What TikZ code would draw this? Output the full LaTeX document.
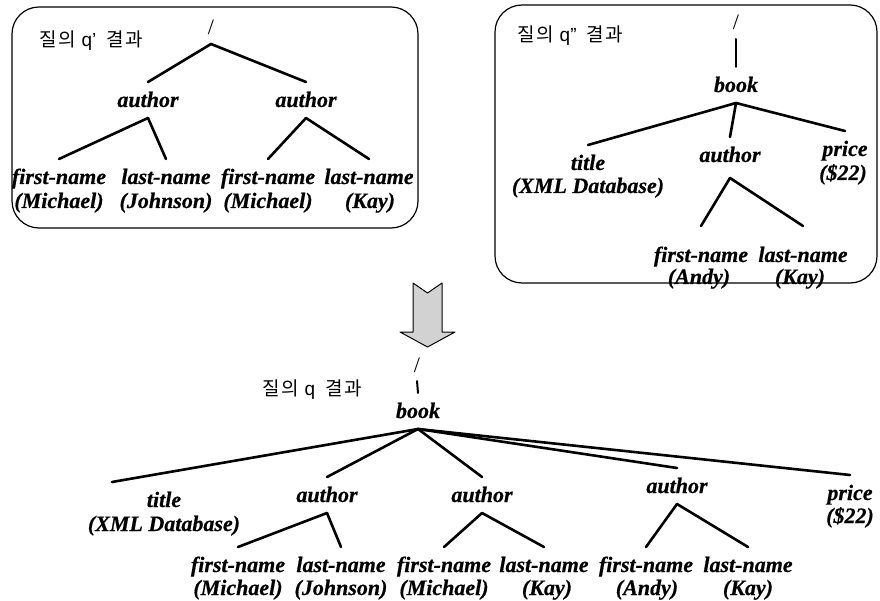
\documentclass[tikz,border=0pt]{standalone}
\usepackage{fontspec}
\setmainfont{Liberation Serif}[BoldItalicFeatures={FakeBold=0.5}]
\newfontfamily\krfont{Noto Sans CJK KR}[LetterSpace=8]
\newfontfamily\qfont{Liberation Sans}
\usetikzlibrary{arrows}
\begin{document}
\begin{tikzpicture}[line cap=round,line join=round,x=1pt,y=-1pt,
    tn/.style={font=\fontsize{22}{25}\selectfont\bfseries\itshape,inner sep=0pt,outer sep=11pt,text height=14pt,text depth=0pt,anchor=base},
    sl/.style={font=\fontsize{22}{24}\selectfont,inner sep=0pt,outer sep=9pt,text height=14pt,text depth=0pt,anchor=base},
    lbl/.style={font=\fontsize{19}{22}\selectfont,inner sep=0pt,anchor=base west},
    br/.style={line width=2.6pt},
    box/.style={line width=1.2pt,rounded corners=27pt}]
            \useasboundingbox (0.,0.) rectangle (880.,601.);
            \draw [box] (12.,7.) rectangle (418.,228.);
            \draw [box] (495.,5.) rectangle (877.,283.);
            \draw (39.,47.) node[lbl] (la) {{\krfont 질의}\hspace{6pt}{\qfont q’}\hspace{10pt}{\krfont 결과}};
            \draw (517.,42.) node[lbl] (lb) {{\krfont 질의}\hspace{6pt}{\qfont q”}\hspace{10pt}{\krfont 결과}};
            \draw (262.,395.) node[lbl] (lc) {{\krfont 질의}\hspace{6pt}{\qfont q}\hspace{10pt}{\krfont 결과}};
            \draw [line width=1.pt,fill=gray!35] (413.,283.)-- (427.5,293.)-- (442.,283.)-- (442.,332.)-- (455.,332.)-- (427.5,347.)-- (400.,332.)-- (413.,332.)-- cycle;
            \draw (211.,35.) node[sl] (ra) {/};
            \draw (148.,107.) node[tn] (aa1) {author};
            \draw (306.,107.) node[tn] (aa2) {author};
            \draw (59.,184.) node[tn] (fa1) {first-name};
            \draw (59.,208.) node[tn] (fa1v) {(Michael)};
            \draw (166.,184.) node[tn] (na1) {last-name};
            \draw (166.,208.) node[tn] (na1v) {(Johnson)};
            \draw (268.,184.) node[tn] (fa2) {first-name};
            \draw (268.,208.) node[tn] (fa2v) {(Michael)};
            \draw (369.,184.) node[tn] (na2) {last-name};
            \draw (370.,208.) node[tn] (na2v) {(Kay)};
            \draw [br] (ra.south)-- (aa1.north);
            \draw [br] (ra.south)-- (aa2.north);
            \draw [br] (aa1.south)-- (fa1.north);
            \draw [br] (aa1.south)-- (na1.north);
            \draw [br] (aa2.south)-- (fa2.north);
            \draw [br] (aa2.south)-- (na2.north);
            \draw (736.,30.) node[sl] (rb) {/};
            \draw (736.,92.) node[tn] (bkb) {book};
            \draw (588.,170.) node[tn] (tb) {title};
            \draw (588.,193.) node[tn] (tbv) {(XML Database)};
            \draw (730.,162.) node[tn] (ab) {author};
            \draw (845.,156.) node[tn] (pb) {price};
            \draw (843.,180.) node[tn] (pbv) {(\$22)};
            \draw (701.,262.) node[tn] (fb) {first-name};
            \draw (699.,284.) node[tn] (fbv) {(Andy)};
            \draw (803.,262.) node[tn] (nb) {last-name};
            \draw (800.,284.) node[tn] (nbv) {(Kay)};
            \draw [line width=2.pt] (rb.south)-- (bkb.north);
            \draw [br] (bkb.south)-- (tb.north);
            \draw [br] (bkb.south)-- (ab.north);
            \draw [br] (bkb.south)-- (pb.north);
            \draw [br] ([yshift=-5pt]ab.south)-- ([yshift=11pt]fb.north);
            \draw [br] ([yshift=-5pt]ab.south)-- ([yshift=11pt]nb.north);
            \draw (417.,372.) node[sl] (rc) {/};
            \draw (418.,418.) node[tn] (bkc) {book};
            \draw (164.,507.) node[tn] (tc) {title};
            \draw (164.,531.) node[tn] (tcv) {(XML Database)};
            \draw (327.,502.) node[tn] (ac1) {author};
            \draw (482.,502.) node[tn] (ac2) {author};
            \draw (677.,493.) node[tn] (ac3) {author};
            \draw (850.,500.) node[tn] (pc) {price};
            \draw (850.,523.) node[tn] (pcv) {(\$22)};
            \draw (238.,572.) node[tn] (fc1) {first-name};
            \draw (238.,595.) node[tn] (fc1v) {(Michael)};
            \draw (341.,572.) node[tn] (nc1) {last-name};
            \draw (341.,595.) node[tn] (nc1v) {(Johnson)};
            \draw (444.,572.) node[tn] (fc2) {first-name};
            \draw (444.,595.) node[tn] (fc2v) {(Michael)};
            \draw (544.,572.) node[tn] (nc2) {last-name};
            \draw (547.,595.) node[tn] (nc2v) {(Kay)};
            \draw (646.,572.) node[tn] (fc3) {first-name};
            \draw (647.,595.) node[tn] (fc3v) {(Andy)};
            \draw (748.,572.) node[tn] (nc3) {last-name};
            \draw (748.,595.) node[tn] (nc3v) {(Kay)};
            \draw [line width=2.pt] (rc.south)-- (bkc.north);
            \draw [br] (bkc.south)-- ([xshift=-52pt]tc.north);
            \draw [br] (bkc.south)-- (ac1.north);
            \draw [br] (bkc.south)-- (ac2.north);
            \draw [br] (bkc.south)-- (ac3.north);
            \draw [br] (bkc.south)-- (pc.north);
            \draw [br] (ac1.south)-- (fc1.north);
            \draw [br] (ac1.south)-- (nc1.north);
            \draw [br] (ac2.south)-- (fc2.north);
            \draw [br] (ac2.south)-- (nc2.north);
            \draw [br] (ac3.south)-- (fc3.north);
            \draw [br] (ac3.south)-- (nc3.north);
        \end{tikzpicture}
\end{document}
